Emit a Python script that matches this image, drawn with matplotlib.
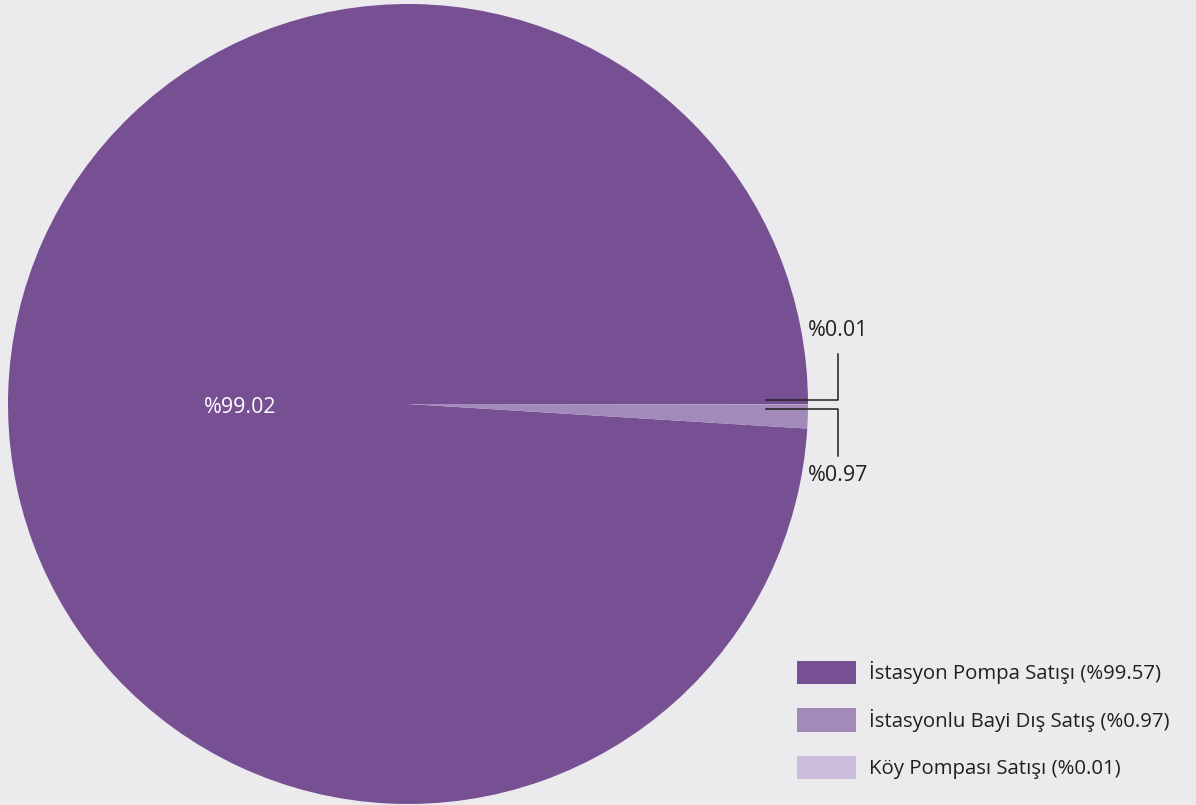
import matplotlib
matplotlib.use('Agg')
import matplotlib.pyplot as plt
import numpy as np

plt.rcParams['font.family'] = ['Open Sans', 'DejaVu Sans']

# slice values shown on the pie
pie_values = [99.02, 0.97, 0.01]
pie_labels = ['%99.02', '%0.97', '%0.01']
# legend texts (as printed in the source)
legend_labels = ['İstasyon Pompa Satışı (%99.57)',
                 'İstasyonlu Bayi Dış Satış (%0.97)',
                 'Köy Pompası Satışı (%0.01)']
colors = ['#774F93', '#A28ABA', '#CBBDDB']
bg = '#EBEBED'
txt = '#231F20'

W, H = 1196, 805
fig = plt.figure(figsize=(W / 100, H / 100), dpi=100, facecolor=bg)
# pie: centre (408, 404) px, radius 400 px
ax = fig.add_axes([8 / W, 1 - 804 / H, 800 / W, 800 / H])
ax.set_facecolor(bg)
wedges, _ = ax.pie(pie_values, colors=colors, startangle=0, counterclock=True,
                   radius=1, wedgeprops=dict(linewidth=0))
ax.set_xlim(-1, 1)
ax.set_ylim(-1, 1)
ax.set_aspect('equal')
ax.axis('off')

lab_fs = 15.4
# big slice label inside the pie
ax.text(-0.42, -0.008, pie_labels[0], color='white', fontsize=lab_fs,
        ha='center', va='center')

# leader lines for the two tiny slices
x0, x1 = 0.895, 1.075
# %0.01 goes up, %0.97 goes down
ax.plot([x0, x1, x1], [0.01, 0.01, 0.125], color=txt, lw=1.1, clip_on=False)
ax.text(x1, 0.185, pie_labels[2], color=txt, fontsize=lab_fs,
        ha='center', va='center')
ax.plot([x0, x1, x1], [-0.0125, -0.0125, -0.13], color=txt, lw=1.1, clip_on=False)
ax.text(x1, -0.178, pie_labels[1], color=txt, fontsize=lab_fs,
        ha='center', va='center')

fs = 14.7
fpx = fs * 100 / 72
leg = fig.legend(wedges, legend_labels, loc='upper left',
                 bbox_to_anchor=(797 / W, 1 - 661 / H), frameon=False,
                 fontsize=fs, handlelength=59 / fpx, handleheight=28 / fpx,
                 labelspacing=24 / fpx, handletextpad=13 / fpx,
                 borderpad=0, borderaxespad=0)
for t in leg.get_texts():
    t.set_color(txt)

fig.savefig('out.png', dpi=100, facecolor=bg)
